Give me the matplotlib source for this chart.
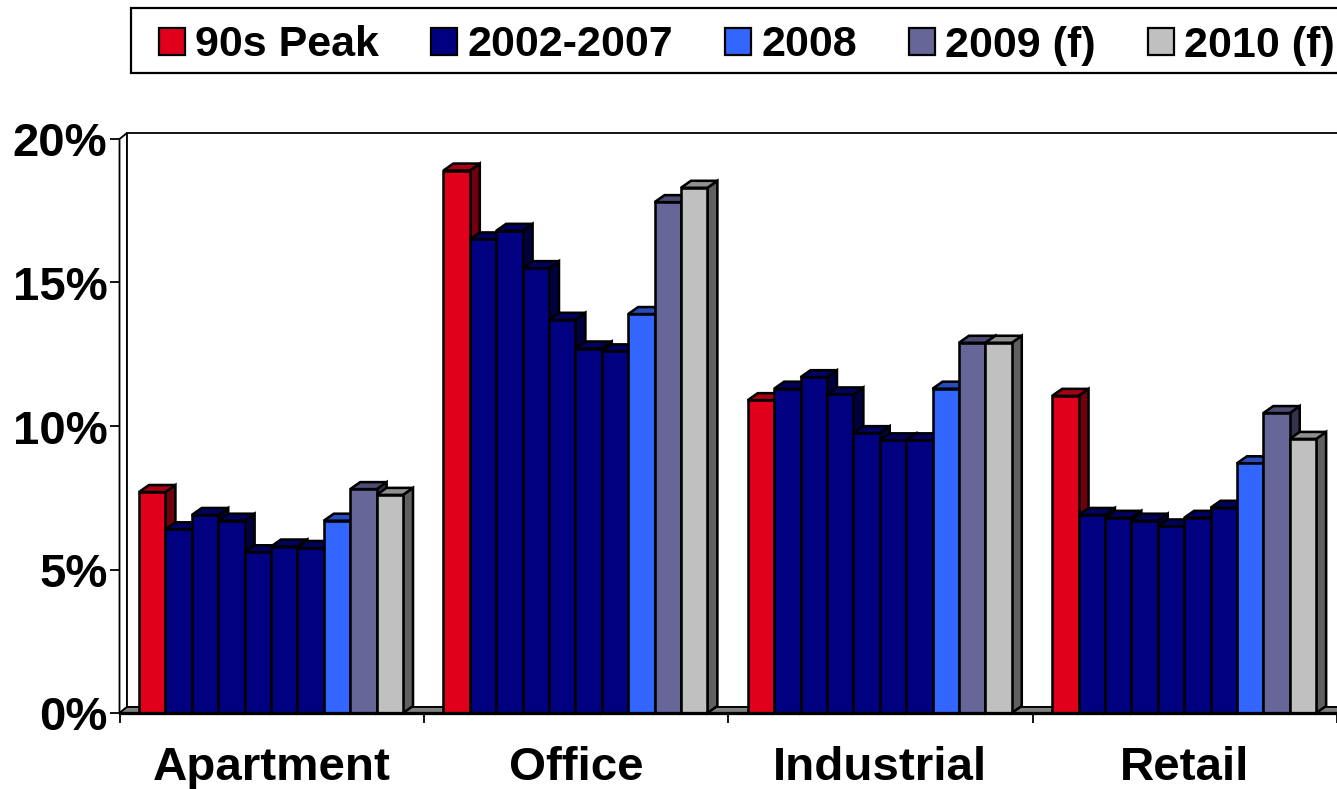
import matplotlib
matplotlib.use("Agg")
import matplotlib.pyplot as plt
from matplotlib.patches import Polygon, Patch, Rectangle
from matplotlib.transforms import ScaledTranslation
import matplotlib.colors as mc

plt.rcParams['font.family'] = ['Liberation Sans', 'DejaVu Sans']

categories = ["Apartment", "Office", "Industrial", "Retail"]
series_names = ["90s Peak", "2002-2007", "2008", "2009 (f)", "2010 (f)"]
bar_series = [0, 1, 1, 1, 1, 1, 1, 2, 3, 4]
apartment = [7.7, 6.4, 6.9, 6.7, 5.6, 5.8, 5.75, 6.7, 7.8, 7.6]
office = [18.9, 16.5, 16.8, 15.5, 13.7, 12.7, 12.6, 13.9, 17.8, 18.3]
industrial = [10.9, 11.3, 11.7, 11.1, 9.75, 9.5, 9.5, 11.3, 12.9, 12.9]
retail = [11.05, 6.9, 6.8, 6.7, 6.5, 6.8, 7.15, 8.7, 10.45, 9.55]
groups = [apartment, office, industrial, retail]
y_ticks = [0, 5, 10, 15, 20]
colors = ["#E0001B", "#000080", "#3366FF", "#666699", "#C0C0C0"]

W, H = 1337, 789
fig = plt.figure(figsize=(W / 100, H / 100), dpi=100, facecolor="white")
x0, x1, y0, y1 = 119.5, 1337.0, 713.0, 139.0
ax = fig.add_axes([x0 / W, 1 - y0 / H, (x1 - x0) / W, (y0 - y1) / H])
ax.set_xlim(0, 4)
ax.set_ylim(0, 20)
ax.patch.set_visible(False)
for s in ax.spines.values():
    s.set_visible(False)

px = 4 / (x1 - x0)
py = 20 / (y0 - y1)
dx, dy = 10 * px, 7 * py
wx, wy = 7.5 * px, 6 * py
lw = 1.85
wall_lw = 1.3


def shade(c, f):
    return tuple(v * f for v in mc.to_rgb(c))


def poly(pts, fc, z=2, width=lw):
    ax.add_patch(Polygon(pts, closed=True, facecolor=fc, edgecolor="black",
                         linewidth=width, joinstyle="miter", clip_on=False, zorder=z))


# walls and floor
poly([(0, 0), (wx, wy), (wx, 20 + wy), (0, 20)], "white", 1, wall_lw)
poly([(wx, wy), (4 + wx, wy), (4 + wx, 20 + wy), (wx, 20 + wy)], "white", 1, wall_lw)
poly([(0, 0), (wx, wy), (4 + wx, wy), (4, 0)], "#808080", 1.5, wall_lw)

bar_w = 26.4 * px
offset = 19.5 * px
for g, vals in enumerate(groups):
    for i, v in enumerate(vals):
        c = colors[bar_series[i]]
        l = g + offset + i * bar_w
        r = l + bar_w
        poly([(r, 0), (r + dx, dy), (r + dx, v + dy), (r, v)], shade(c, 0.5))
        poly([(l, v), (l + dx, v + dy), (r + dx, v + dy), (r, v)], shade(c, 0.75))
        poly([(l, 0), (l, v), (r, v), (r, 0)], c)

ax.plot([0, 4], [0, 0], color="black", lw=lw + 0.5, clip_on=False, zorder=5)

ax.set_yticks(y_ticks)
ax.set_yticklabels([f"{v}%" for v in y_ticks], fontsize=34, fontweight="bold")
ax.set_xticks(range(5))
ax.set_xticklabels([])
ax.set_xticks([g + 0.5 for g in range(4)], labels=categories, minor=True,
              fontsize=34.2, fontweight="bold")
ax.tick_params(axis="y", length=7.2, width=wall_lw, pad=1.5)
ax.tick_params(axis="x", which="major", length=7.2, width=wall_lw)
ax.tick_params(axis="x", which="minor", length=0, pad=23.5)
shift = ScaledTranslation(0, -0.005, fig.dpi_scale_trans)
for t in ax.get_yticklabels():
    t.set_transform(t.get_transform() + shift)

# legend frame runs off the right edge of the figure
fig.add_artist(Rectangle((131 / W, 1 - 73 / H), 1.1 * (W - 131) / W, 65 / H,
                         transform=fig.transFigure, facecolor="white",
                         edgecolor="black", linewidth=1.6, zorder=0))
handles = [Patch(facecolor=c, edgecolor="black", linewidth=1.6) for c in colors]
leg = fig.legend(handles, series_names, ncol=5, loc="center left",
                 bbox_to_anchor=(159 / W, 1 - 45.5 / H), bbox_transform=fig.transFigure,
                 frameon=False, prop={"size": 31, "weight": "bold"},
                 handlelength=0.6, handleheight=0.58, handletextpad=0.24,
                 columnspacing=1.21, borderaxespad=0, borderpad=0)

fig.savefig("out.png", dpi=100)
